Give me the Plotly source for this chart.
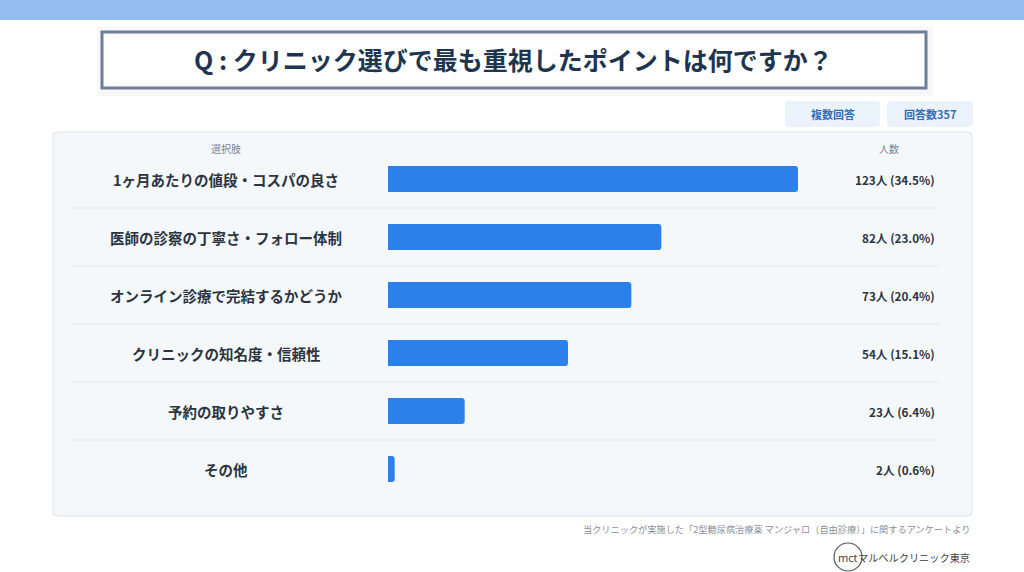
import plotly.graph_objects as go

W, H = 1024, 572

title = "Q : クリニック選びで最も重視したポイントは何ですか？"
categories = [
    "1ヶ月あたりの値段・コスパの良さ",
    "医師の診察の丁寧さ・フォロー体制",
    "オンライン診療で完結するかどうか",
    "クリニックの知名度・信頼性",
    "予約の取りやすさ",
    "その他",
]
counts = [123, 82, 73, 54, 23, 2]
percents = [34.5, 23.0, 20.4, 15.1, 6.4, 0.6]
badges = ["複数回答", "回答数357"]
header_left = "選択肢"
header_right = "人数"
footnote = "当クリニックが実施した「2型糖尿病治療薬 マンジャロ（自由診療）」に関するアンケートより"
brand = "マルベルクリニック東京"
logo = "mct"

FONT = "Noto Sans CJK JP"


def px(x):
    return x / W


def py(y):
    return 1 - y / H


def rrect(x0, y0, x1, y1, r):
    pts = [
        f"M {px(x0 + r)},{py(y0)}",
        f"L {px(x1 - r)},{py(y0)}",
        f"Q {px(x1)},{py(y0)} {px(x1)},{py(y0 + r)}",
        f"L {px(x1)},{py(y1 - r)}",
        f"Q {px(x1)},{py(y1)} {px(x1 - r)},{py(y1)}",
        f"L {px(x0 + r)},{py(y1)}",
        f"Q {px(x0)},{py(y1)} {px(x0)},{py(y1 - r)}",
        f"L {px(x0)},{py(y0 + r)}",
        f"Q {px(x0)},{py(y0)} {px(x0 + r)},{py(y0)}",
        "Z",
    ]
    return " ".join(pts)


fig = go.Figure()
fig.add_trace(
    go.Bar(
        x=counts,
        y=categories,
        orientation="h",
        marker=dict(color="#2B80EA", line=dict(width=0)),
        width=0.45,
        hoverinfo="skip",
    )
)

shapes = []
annotations = []

shapes.append(dict(type="rect", xref="paper", yref="paper", x0=0, x1=1, y0=py(20), y1=1,
                   fillcolor="#94BEF2", line=dict(width=0), layer="below"))
shapes.append(dict(type="rect", xref="paper", yref="paper", x0=px(97), x1=px(933), y0=py(96), y1=py(27),
                   fillcolor="rgba(0,0,0,0.03)", line=dict(width=0), layer="below"))
shapes.append(dict(type="rect", xref="paper", yref="paper", x0=px(102), x1=px(926), y0=py(88), y1=py(32),
                   fillcolor="white", line=dict(color="#6B7F99", width=3), layer="below"))
annotations.append(dict(text=f"<b>{title}</b>", x=px(513), y=py(59), xref="paper", yref="paper",
                        showarrow=False, font=dict(family=FONT, size=25, color="#1E3550"),
                        xanchor="center", yanchor="middle"))

for (x0, x1), t in zip([(785, 880), (887, 973)], badges):
    shapes.append(dict(type="path", path=rrect(x0, 101, x1, 127, 4), xref="paper", yref="paper",
                       fillcolor="#EAF2FB", line=dict(width=0), layer="below"))
    annotations.append(dict(text=f"<b>{t}</b>", x=px((x0 + x1) / 2), y=py(114), xref="paper", yref="paper",
                            showarrow=False, font=dict(family=FONT, size=11, color="#2F6DB8"),
                            xanchor="center", yanchor="middle"))

shapes.append(dict(type="path", path=rrect(53, 132, 972, 516, 4), xref="paper", yref="paper",
                   fillcolor="#F5F8FB", line=dict(color="#DDE3EA", width=1), layer="below"))

annotations.append(dict(text=header_left, x=px(226), y=py(149), xref="paper", yref="paper", showarrow=False,
                        font=dict(family=FONT, size=10, color="#7A8591"), xanchor="center", yanchor="middle"))
annotations.append(dict(text=header_right, x=px(889), y=py(149), xref="paper", yref="paper", showarrow=False,
                        font=dict(family=FONT, size=10, color="#7A8591"), xanchor="center", yanchor="middle"))

for i in range(len(categories) - 1):
    shapes.append(dict(type="line", xref="paper", yref="y", x0=px(72), x1=px(940), y0=i + 0.5, y1=i + 0.5,
                       line=dict(color="#E3E8EE", width=1), layer="below"))

for c, n, p in zip(categories, counts, percents):
    annotations.append(dict(text=f"<b>{c}</b>", x=px(226), y=c, xref="paper", yref="y", showarrow=False,
                            font=dict(family=FONT, size=14.5, color="#2B3440"), xanchor="center", yanchor="middle"))
    annotations.append(dict(text=f"<b>{n}人 ({p:.1f}%)</b>", x=px(937), y=c, xref="paper", yref="y",
                            showarrow=False, font=dict(family=FONT, size=11.7, color="#2B3440"),
                            xanchor="right", yanchor="middle"))

annotations.append(dict(text=footnote, x=px(972), y=py(529), xref="paper", yref="paper", showarrow=False,
                        font=dict(family=FONT, size=9.2, color="#8A9099"), xanchor="right", yanchor="middle"))
shapes.append(dict(type="circle", xref="paper", yref="paper", x0=px(834), x1=px(862), y0=py(571), y1=py(543),
                   line=dict(color="#555555", width=1.2), fillcolor="white"))
annotations.append(dict(text=logo, x=px(848), y=py(557), xref="paper", yref="paper", showarrow=False,
                        font=dict(family="Noto Sans", size=11, color="#444444"), xanchor="center", yanchor="middle"))
annotations.append(dict(text=brand, x=px(972), y=py(557), xref="paper", yref="paper", showarrow=False,
                        font=dict(family=FONT, size=10.2, color="#444444"), xanchor="right", yanchor="middle"))

fig.update_layout(
    width=W, height=H,
    margin=dict(l=0, r=0, t=0, b=0),
    paper_bgcolor="white",
    plot_bgcolor="rgba(0,0,0,0)",
    showlegend=False,
    barcornerradius=3,
    xaxis=dict(domain=[px(388), px(798)], range=[0, max(counts)], visible=False, fixedrange=True),
    yaxis=dict(domain=[py(498), py(150)], categoryorder="array", categoryarray=categories,
               autorange="reversed", visible=False, fixedrange=True),
    shapes=shapes,
    annotations=annotations,
)

fig.write_html("out.html", config={"displayModeBar": False})
